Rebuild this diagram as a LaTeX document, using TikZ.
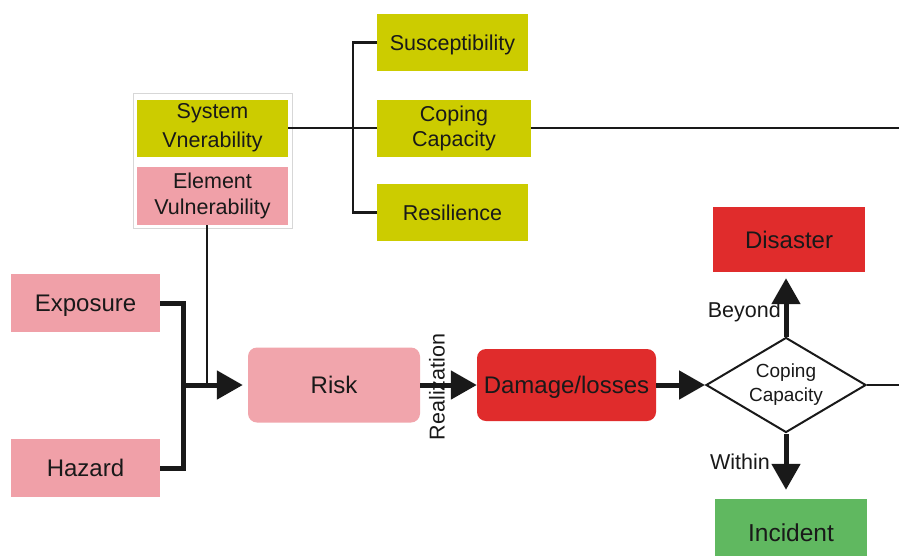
\documentclass[tikz,border=0pt]{standalone}
\usepackage{fontspec}
\setmainfont{Liberation Sans}
\usetikzlibrary{arrows.meta,shapes.geometric}
\definecolor{oliveY}{RGB}{204,204,0}
\definecolor{pinkA}{RGB}{240,160,168}
\definecolor{redA}{RGB}{224,44,44}
\definecolor{greenA}{RGB}{96,184,96}
\definecolor{frameG}{RGB}{215,215,215}
\tikzset{
  box/.style={rectangle,inner sep=0pt,align=center,text=black!90},
  ybox/.style={box,fill=oliveY,minimum width=151pt,minimum height=57pt,font=\fontsize{21.5}{27}\selectfont},
  pbox/.style={box,fill=pinkA,minimum width=149pt,minimum height=58pt,font=\fontsize{24}{28}\selectfont},
  rbox/.style={box,rounded corners=9pt,minimum height=73pt,font=\fontsize{24}{28}\selectfont},
  onel/.style={text depth=0pt},
  thin/.style={line width=2.4pt,black!90},
  thick5/.style={line width=5pt,black!90},
  bigarrow/.style={thick5,-{Triangle[length=26pt,width=28pt]}},
  lbl/.style={inner sep=0pt,font=\fontsize{21.5}{24}\selectfont,text=black!90}
}
\begin{document}
\begin{tikzpicture}[x=1pt,y=-1pt]
\useasboundingbox[fill=white] (0,0) rectangle (899,555);
% vulnerability frame
\node[draw=frameG,line width=1pt,minimum width=159pt,minimum height=135pt,inner sep=0pt] (frame) at (212.5,160.5) {};
\node[ybox,font=\fontsize{21.5}{29}\selectfont] (sys) at (212.5,128) {System\\Vnerability};
\node[pbox,minimum width=151pt,font=\fontsize{21.5}{26}\selectfont] (elem) at (212.5,196) {Element\\Vulnerability};
% tree
\node[ybox,onel] (sus) at (452.5,42.5) {Susceptibility};
\node[ybox,minimum width=154pt,font=\fontsize{21.5}{25}\selectfont] (cop) at (454,128) {Coping\\Capacity};
\node[ybox,onel] (res) at (452.5,212.5) {Resilience};
% left inputs
\node[pbox,onel] (exp) at (85.5,303) {Exposure};
\node[pbox,onel] (haz) at (85.5,468) {Hazard};
% main chain
\node[rbox,onel,fill=pinkA!95!white,minimum width=172pt,minimum height=75pt] (risk) at (334,385) {Risk};
\node[rbox,onel,fill=redA,minimum width=179pt,minimum height=72pt] (dam) at (566.5,385) {Damage/losses};
\node[diamond,draw=black!90,line width=2pt,fill=white,inner sep=0pt,minimum width=160pt,minimum height=95pt,aspect=1.68,align=center,font=\fontsize{19}{24}\selectfont,text=black!90] (dia) at (786,385) {Coping\\Capacity};
\node[box,onel,fill=redA,minimum width=152pt,minimum height=65pt,font=\fontsize{24}{28}\selectfont] (dis) at (789,239.5) {Disaster};
\node[box,onel,fill=greenA,minimum width=152pt,minimum height=68pt,font=\fontsize{24.5}{28}\selectfont] (inc) at (791,533) {Incident};
% coordinates
\coordinate (rightTop) at (899,128);
\coordinate (rightMid) at (899,385);
\coordinate (j) at (207,385);
\coordinate (m) at (183,385);
% thin connectors
\draw[thin] (sys.east) -- (cop.west);
\draw[thin] (sus.west) -- ++(-24,0) |- (res.west);
\draw[thin] (cop.east) -- (rightTop);
\draw[thin] (elem.south -| j) -- (j);
\draw[thin] (dia.east) -- (rightMid);
% thick connectors
\draw[thick5] (exp.east) -| (m);
\draw[thick5] (haz.east) -| (m);
\draw[bigarrow,shorten >=5pt] (m) -- (risk.west);
\draw[bigarrow] (risk.east) -- (dam.west);
\draw[bigarrow] (dam.east) -- (dia.west);
\draw[bigarrow,shorten >=6pt] (dia.north) -- (dia.north |- dis.south);
\draw[bigarrow,shorten >=9pt] (dia.south) -- (dia.south |- inc.north);
% labels
\node[lbl,rotate=90] (real) at (437,387) {Realization};
\node[lbl,anchor=east] (bey) at (781,312) {Beyond};
\node[lbl,anchor=east] (wit) at (770,462) {Within};
\end{tikzpicture}
\end{document}
